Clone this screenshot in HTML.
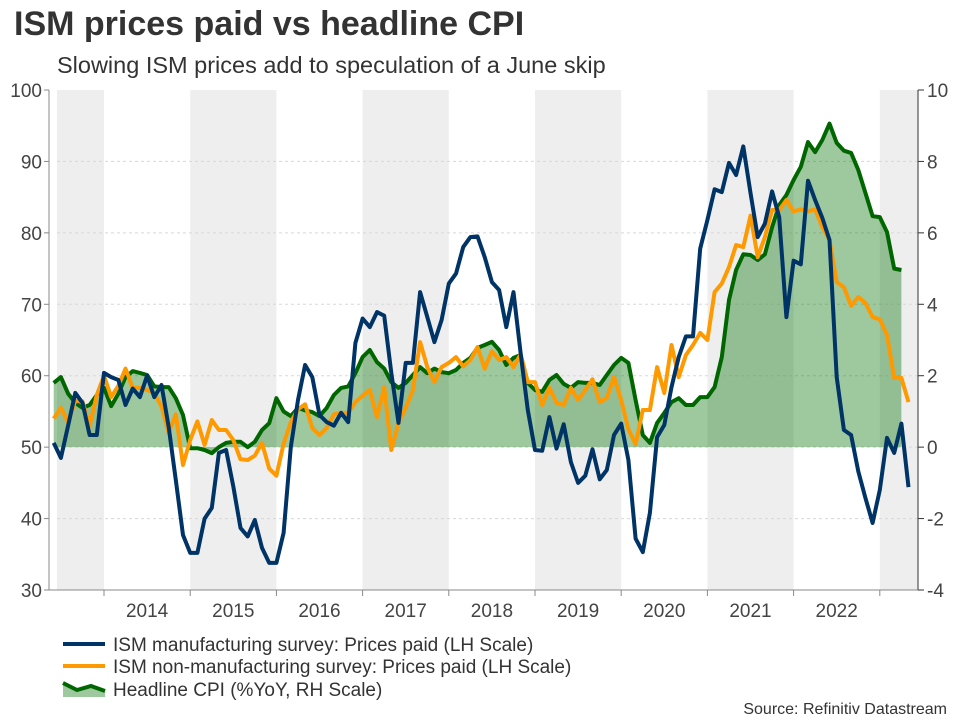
<!DOCTYPE html>
<html><head><meta charset="utf-8">
<style>
body{margin:0;background:#fff;font-family:"Liberation Sans",sans-serif;}
svg text{font-family:"Liberation Sans",sans-serif;}
</style></head>
<body>
<svg id="chart" width="960" height="720" viewBox="0 0 960 720">
<text x="14" y="35" font-size="34" font-weight="bold" fill="#333">ISM prices paid vs headline CPI</text>
<text x="57" y="73" font-size="23.5" fill="#333">Slowing ISM prices add to speculation of a June skip</text>
<g id="bands"></g>
<g id="grid"></g>
<g id="series"></g>
<g id="axes"></g>
<g>
<line x1="63" y1="644" x2="105" y2="644" stroke="#003366" stroke-width="4"/>
<text x="113" y="651" font-size="19" fill="#333">ISM manufacturing survey: Prices paid (LH Scale)</text>
<line x1="63" y1="666" x2="105" y2="666" stroke="#ff9900" stroke-width="4"/>
<text x="113" y="673" font-size="19" fill="#333">ISM non-manufacturing survey: Prices paid (LH Scale)</text>
<path d="M63,683 L77,690 L91,686 L105,691 L105,697 L63,697 Z" fill="rgba(0,110,0,0.38)"/>
<polyline points="63,683 77,690 91,686 105,691" fill="none" stroke="#006600" stroke-width="4"/>
<text x="113" y="696" font-size="19" fill="#333">Headline CPI (%YoY, RH Scale)</text>
</g>
<text x="947" y="714" font-size="16" fill="#333" text-anchor="end">Source: Refinitiv Datastream</text>
</svg>
<script>
const ismMfg=[50.6,48.5,53,57.6,56.2,51.7,51.7,60.4,59.8,59.4,55.9,58.2,57,60,57,58.7,52.8,45.4,37.7,35.2,35.2,40,41.5,49.2,49.6,44.5,38.7,37.5,39.8,35.9,33.8,33.8,38,50,56.6,61.5,59.8,54.5,53.5,53,54.8,53.5,64.6,68,66.8,68.9,68.4,60.4,53.4,61.8,61.8,71.7,68.2,64.7,67.8,72.9,74.3,78,79.4,79.5,76.6,73.1,72,66.8,71.7,63.2,55.2,49.6,49.5,54.2,49.8,53.2,47.9,45,46,49.7,45.5,46.8,51.7,53.3,48.2,37.2,35.3,40.8,51.4,53.1,58.4,62.6,65.5,65.5,77.8,81.8,86.1,85.7,89.8,88.1,92.1,85.6,79.4,81.3,85.8,82.2,68.2,76.1,75.6,87.3,84.6,82.1,79,59.8,52.4,51.7,46.6,42.9,39.4,44,51.3,49.2,53.3,44.4];
const ismNonMfg=[54,55.5,53.5,56.5,56.4,53,57.3,60,57,58.6,61,58.3,58.3,58,57.6,55.7,52,54.6,47.5,51,53.6,50.3,53.8,52.4,52.4,51,48.3,48.2,48.8,50.6,47,46,50.5,53.5,55.3,56,52.7,51.7,52.7,54.6,54.8,54.8,56.3,57.2,58,54.2,58.4,49.6,53.4,55.5,58,64.7,61.2,59.1,61.2,61.8,62.6,61.3,62.2,64,61,63.4,62.2,62.6,61.2,63,59.1,59.1,55.9,58.3,56.2,55.9,58.3,56.6,58,59.5,56.3,56.9,59.8,56.6,52.5,50.4,55.2,55.2,61.2,57.6,64.3,59.8,62.9,64.3,66,65,71.7,72.9,75.2,78.3,78,82.4,76.6,79.4,83.2,83.2,84.6,83,83.3,83,83.3,80.8,79,73.1,72.4,69.8,71,70.2,68.2,67.9,65.7,59.7,59.7,56.3];
const cpi=[1.8,1.96,1.5,1.24,1.1,1.18,1.46,1.66,1.15,1.5,1.96,2.13,2.08,2.02,1.7,1.68,1.68,1.37,0.9,-0.03,-0.03,-0.08,-0.17,0,0.12,0.15,0.15,0,0.15,0.48,0.67,1.37,1.0,0.87,1.1,1.03,0.98,0.87,1.1,1.46,1.66,1.7,2.07,2.52,2.72,2.38,2.2,1.82,1.66,1.8,2.02,2.24,2.07,2.2,2.1,2.07,2.16,2.36,2.5,2.78,2.86,2.95,2.72,2.3,2.5,2.58,1.8,1.6,1.55,1.88,2.02,1.77,1.66,1.82,1.8,1.8,1.74,2.02,2.3,2.5,2.36,1.32,0.34,0.12,0.68,0.96,1.26,1.37,1.18,1.18,1.4,1.4,1.68,2.52,4.12,4.96,5.4,5.38,5.24,5.4,6.16,6.78,7.06,7.48,7.85,8.54,8.26,8.6,9.06,8.52,8.3,8.24,7.76,7.12,6.47,6.44,6.02,5.0,4.96];
const years=[2014,2015,2016,2017,2018,2019,2020,2021,2022,2023];
const leftTicks=[30,40,50,60,70,80,90,100];
const rightTicks=[-4,-2,0,2,4,6,8,10];
const startYear=2013+5/12; // Jun 2013

const NS="http://www.w3.org/2000/svg";
const PL=57,PR=918,PT=90,PB=590,YPX=86.2,X2014=104;
function xT(t){return X2014+(t-2014)*YPX;}
function xI(i){return xT(startYear+i/12);}
function yL(v){return PT+(100-v)*(PB-PT)/70;}
function yR(v){return PT+(10-v)*(PB-PT)/14;}
function mk(tag,attrs,parent){const e=document.createElementNS(NS,tag);for(const k in attrs)e.setAttribute(k,attrs[k]);parent.appendChild(e);return e;}

const bands=document.getElementById('bands');
const bandStarts=[2013,2015,2017,2019,2021,2023];
bandStarts.forEach(y=>{
  const x0=Math.max(PL,xT(y)),x1=Math.min(PR,xT(y+1));
  const r=mk('rect',{x:x0,y:PT,width:x1-x0,height:PB-PT,fill:'#eeeeee'},bands);
  
  
});
const grid=document.getElementById('grid');
leftTicks.forEach(v=>{
  if(v===30||v===100)return;
  const l=mk('line',{x1:PL,x2:PR,y1:yL(v),y2:yL(v),stroke:'#d8d8d8','stroke-dasharray':'3,3','stroke-width':1},grid);
  
  
});

const series=document.getElementById('series');
let area='M'+xI(0)+','+yR(0);
cpi.forEach((v,i)=>{area+=' L'+xI(i).toFixed(1)+','+yR(v).toFixed(1);});
area+=' L'+xI(cpi.length-1)+','+yR(0)+' Z';
const a=mk('path',{d:area,fill:'rgba(0,110,0,0.38)'},series);


function line(arr,fy,color,name){
  const pts=arr.map((v,i)=>xI(i).toFixed(1)+','+fy(v).toFixed(1)).join(' ');
  const p=mk('polyline',{points:pts,fill:'none',stroke:color,'stroke-width':4,'stroke-linejoin':'round'},series);
  
  
}
line(cpi,yR,'#006600','cpi-line');
line(ismNonMfg,yL,'#ff9900','ism-nonmfg-line');
line(ismMfg,yL,'#003366','ism-mfg-line');

const axes=document.getElementById('axes');
const la=mk('line',{x1:PL-8,x2:PL-8,y1:PT,y2:PB,stroke:'#888','stroke-width':1},axes);


const ra=mk('line',{x1:PR,x2:PR,y1:PT,y2:PB,stroke:'#333','stroke-width':1},axes);


const ba=mk('line',{x1:PL-8,x2:PR,y1:PB,y2:PB,stroke:'#888','stroke-width':1},axes);


leftTicks.forEach(v=>{
  mk('line',{x1:PL-13,x2:PL-8,y1:yL(v),y2:yL(v),stroke:'#888'},axes);
  const t=mk('text',{x:PL-15,y:yL(v)+7,'font-size':19,fill:'#444','text-anchor':'end'},axes);
  t.textContent=v;
  
  
});
rightTicks.forEach(v=>{
  mk('line',{x1:PR,x2:PR+6,y1:yR(v),y2:yR(v),stroke:'#333'},axes);
  const t=mk('text',{x:PR+9,y:yR(v)+7,'font-size':19,fill:'#444'},axes);
  t.textContent=v;
  
  
});
years.forEach(y=>{
  const x=xT(y);
  mk('line',{x1:x,x2:x,y1:PB,y2:PB+6,stroke:'#888'},axes);
  if(y<2023){
    const t=mk('text',{x:x+YPX/2,y:PB+27,'font-size':19,fill:'#444','text-anchor':'middle'},axes);
    t.textContent=y;
    
    
  }
});
</script>
</body></html>
